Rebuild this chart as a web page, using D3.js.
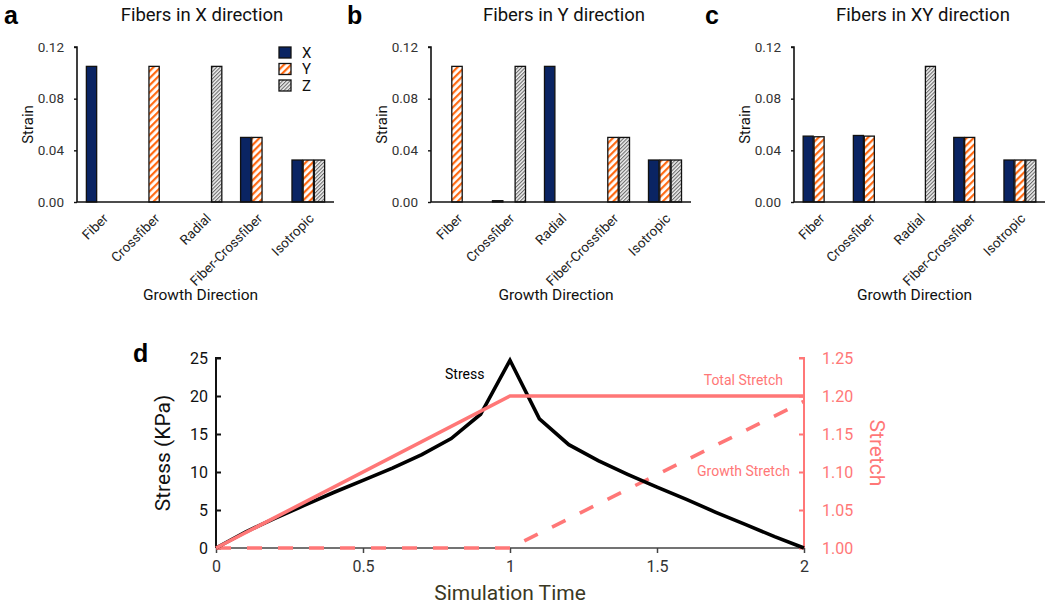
<!DOCTYPE html>
<html>
<head>
<meta charset="utf-8">
<script src="https://cdn.jsdelivr.net/npm/d3@7"></script>
<style>
  body { margin: 0; background: #fff; }
  svg { font-family: Roboto, sans-serif; }
</style>
</head>
<body>
<svg width="1050" height="605"></svg>
<script>
const categories = ['Fiber', 'Crossfiber', 'Radial', 'Fiber-Crossfiber', 'Isotropic'];
const directions = ['X', 'Y', 'Z'];
const strainTicks = [0, 0.04, 0.08, 0.12];

// panel a: fibers in X direction
const fibersX_X = [0.105, 0, 0, 0.05, 0.0325];
const fibersX_Y = [0, 0.105, 0, 0.05, 0.0325];
const fibersX_Z = [0, 0, 0.105, 0, 0.0325];
// panel b: fibers in Y direction
const fibersY_X = [0, 0.001, 0.105, 0, 0.0325];
const fibersY_Y = [0.105, 0, 0, 0.05, 0.0325];
const fibersY_Z = [0, 0.105, 0, 0.05, 0.0325];
// panel c: fibers in XY direction
const fibersXY_X = [0.051, 0.0515, 0, 0.05, 0.0325];
const fibersXY_Y = [0.0505, 0.051, 0, 0.05, 0.0325];
const fibersXY_Z = [0, 0, 0.105, 0, 0.0325];

// panel d
const simTime = [0, 0.1, 0.2, 0.3, 0.4, 0.5, 0.6, 0.7, 0.8, 0.9, 1.0, 1.1, 1.2, 1.3, 1.4, 1.5, 1.6, 1.7, 1.8, 1.9, 2.0];
const stress = [0, 2.1, 3.9, 5.6, 7.3, 8.9, 10.5, 12.3, 14.4, 17.6, 24.7, 17.0, 13.6, 11.5, 9.7, 8.0, 6.4, 4.7, 3.1, 1.5, 0];
const stretchTime = [0, 1, 2];
const totalStretch = [1.0, 1.2, 1.2];
const growthStretch = [1.0, 1.0, 1.193];
const timeTicks = [0, 0.5, 1, 1.5, 2];
const stressTicks = [0, 5, 10, 15, 20, 25];
const stretchTicks = [1.0, 1.05, 1.1, 1.15, 1.2, 1.25];

const navy = '#0a2463';
const orange = '#ff6a13';
const pink = '#ff7777';

const svg = d3.select('svg');
const defs = svg.append('defs');

const pY = defs.append('pattern').attr('id', 'hatchY').attr('patternUnits', 'userSpaceOnUse')
  .attr('width', 5).attr('height', 5).attr('patternTransform', 'rotate(45)');
pY.append('rect').attr('width', 5).attr('height', 5).attr('fill', '#fff');
pY.append('rect').attr('width', 2.2).attr('height', 5).attr('fill', orange);

const pZ = defs.append('pattern').attr('id', 'hatchZ').attr('patternUnits', 'userSpaceOnUse')
  .attr('width', 2.6).attr('height', 2.6).attr('patternTransform', 'rotate(45)');
pZ.append('rect').attr('width', 2.6).attr('height', 2.6).attr('fill', '#f2f2f2');
pZ.append('rect').attr('width', 1.1).attr('height', 2.6).attr('fill', '#6a6a6a');

const fills = {X: navy, Y: 'url(#hatchY)', Z: 'url(#hatchZ)'};

function barPanel(opts) {
  const top = 47, bottom = 202;
  const g = svg.append('g');
  const x0 = d3.scaleBand().domain(categories).range([opts.x0, opts.x1])
    .paddingInner(0.33).paddingOuter(0.165);
  const x1 = d3.scaleBand().domain(directions).range([0, x0.bandwidth()]).padding(0.08);
  const y = d3.scaleLinear().domain([0, 0.12]).range([bottom, top]);

  g.append('text').attr('x', opts.letterX).attr('y', 24)
    .attr('font-family', 'Liberation Sans, Arial, sans-serif').attr('font-weight', 'bold')
    .attr('font-size', 25).text(opts.letter);
  g.append('text').attr('x', opts.titleX).attr('y', 21).attr('text-anchor', 'middle')
    .attr('font-size', 18.5).attr('fill', '#111').text(opts.title);

  const rows = [];
  categories.forEach((c, i) => {
    directions.forEach(d => {
      rows.push({cat: c, dir: d, v: opts.series[d][i]});
    });
  });

  g.selectAll('rect.bar').data(rows.filter(r => r.v > 0)).join('rect')
    .attr('class', 'bar')
    .attr('x', r => x0(r.cat) + x1(r.dir))
    .attr('width', x1.bandwidth())
    .attr('y', r => y(r.v))
    .attr('height', r => y(0) - y(r.v))
    .attr('fill', r => fills[r.dir])
    .attr('stroke', '#111').attr('stroke-width', 1.3);

  const yAxis = g.append('g').attr('transform', 'translate(' + opts.x0 + ',0)')
    .call(d3.axisLeft(y).tickValues(strainTicks).tickFormat(d3.format('.2f')).tickSize(3).tickPadding(10));
  yAxis.select('.domain').attr('stroke', '#111').attr('stroke-width', 1.6).attr('d', 'M-3,' + top + 'H0V' + bottom);
  yAxis.selectAll('.tick line').attr('stroke', '#111').attr('stroke-width', 1.4);
  yAxis.selectAll('.tick text').attr('font-size', 13.5).attr('fill', '#333').attr('font-family', 'Roboto, sans-serif');

  const xAxis = g.append('g').attr('transform', 'translate(0,' + bottom + ')')
    .call(d3.axisBottom(x0).tickSize(0).tickPadding(0));
  xAxis.select('.domain').attr('stroke', '#111').attr('stroke-width', 1.6)
    .attr('d', 'M' + opts.x0 + ',0H' + opts.x1);
  xAxis.selectAll('.tick text')
    .attr('font-size', 13.5).attr('fill', '#222').attr('font-family', 'Roboto, sans-serif')
    .attr('text-anchor', 'end').attr('dy', '0.35em')
    .attr('transform', 'translate(3,14) rotate(-45)');

  g.append('text').attr('transform', 'translate(' + (opts.x0 - 44) + ',' + ((top + bottom) / 2) + ') rotate(-90)')
    .attr('text-anchor', 'middle').attr('font-size', 15).attr('fill', '#111').text('Strain');
  g.append('text').attr('x', (opts.x0 + opts.x1) / 2 - 5).attr('y', 300).attr('text-anchor', 'middle')
    .attr('font-size', 15.5).attr('fill', '#111').text('Growth Direction');

  if (opts.legend) {
    const lg = g.append('g').attr('transform', 'translate(279,47)');
    directions.forEach((d, i) => {
      lg.append('rect').attr('x', 0).attr('y', i * 16.5).attr('width', 12).attr('height', 11)
        .attr('fill', fills[d]).attr('stroke', '#111').attr('stroke-width', 1.3);
      lg.append('text').attr('x', 23).attr('y', i * 16.5 + 5.5).attr('dy', '0.36em')
        .attr('font-size', 15).attr('fill', '#111').text(d);
    });
  }
}

barPanel({letter: 'a', letterX: 4, title: 'Fibers in X direction', titleX: 202, x0: 77, x1: 334,
  series: {X: fibersX_X, Y: fibersX_Y, Z: fibersX_Z}, legend: true});
barPanel({letter: 'b', letterX: 347, title: 'Fibers in Y direction', titleX: 564, x0: 431, x1: 691,
  series: {X: fibersY_X, Y: fibersY_Y, Z: fibersY_Z}});
barPanel({letter: 'c', letterX: 705, title: 'Fibers in XY direction', titleX: 923, x0: 794, x1: 1045,
  series: {X: fibersXY_X, Y: fibersXY_Y, Z: fibersXY_Z}});

// panel d
const left = 216, right = 804, dTop = 358, dBottom = 548;
const gd = svg.append('g');
const xT = d3.scaleLinear().domain([0, 2]).range([left, right]);
const yS = d3.scaleLinear().domain([0, 25]).range([dBottom, dTop]);
const yR = d3.scaleLinear().domain([1, 1.25]).range([dBottom, dTop]);

gd.append('text').attr('x', 133).attr('y', 362)
  .attr('font-family', 'Liberation Sans, Arial, sans-serif').attr('font-weight', 'bold')
  .attr('font-size', 25).text('d');

const xAx = gd.append('g').attr('transform', 'translate(0,' + dBottom + ')')
  .call(d3.axisBottom(xT).tickValues(timeTicks).tickFormat(d3.format('')).tickSize(5).tickPadding(8));
xAx.select('.domain').attr('stroke', '#444').attr('stroke-width', 1.5).attr('d', 'M' + left + ',0H' + right);
xAx.selectAll('.tick line').attr('stroke', '#444').attr('stroke-width', 1.5);
xAx.selectAll('.tick text').attr('font-size', 16).attr('fill', '#333').attr('font-family', 'Roboto, sans-serif');

const yAxL = gd.append('g').attr('transform', 'translate(' + left + ',0)')
  .call(d3.axisRight(yS).tickValues(stressTicks).tickSize(5).tickPadding(-20));
yAxL.select('.domain').attr('stroke', '#111').attr('stroke-width', 2).attr('d', 'M5,' + dTop + 'H0V' + dBottom);
yAxL.selectAll('.tick line').attr('stroke', '#111').attr('stroke-width', 2);
yAxL.selectAll('.tick text').attr('x', -8).attr('text-anchor', 'end')
  .attr('font-size', 16).attr('fill', '#111').attr('font-family', 'Roboto, sans-serif');

const yAxR = gd.append('g').attr('transform', 'translate(' + right + ',0)')
  .call(d3.axisLeft(yR).tickValues(stretchTicks).tickFormat(d3.format('.2f')).tickSize(5));
yAxR.select('.domain').attr('stroke', pink).attr('stroke-width', 2).attr('d', 'M-5,' + dTop + 'H0V' + dBottom);
yAxR.selectAll('.tick line').attr('stroke', pink).attr('stroke-width', 2);
yAxR.selectAll('.tick text').attr('x', 18).attr('text-anchor', 'start')
  .attr('font-size', 16).attr('fill', pink).attr('font-family', 'Roboto, sans-serif');

const stretchLine = d3.line().x((d, i) => xT(stretchTime[i])).y(d => yR(d));
gd.append('path').datum(growthStretch).attr('d', stretchLine)
  .attr('fill', 'none').attr('stroke', pink).attr('stroke-width', 3.6)
  .attr('stroke-dasharray', '15,16');
gd.append('path').datum(stress)
  .attr('d', d3.line().x((d, i) => xT(simTime[i])).y(d => yS(d)))
  .attr('fill', 'none').attr('stroke', '#000').attr('stroke-width', 3.6).attr('stroke-linejoin', 'miter');
gd.append('path').datum(totalStretch).attr('d', stretchLine)
  .attr('fill', 'none').attr('stroke', pink).attr('stroke-width', 3.6);

gd.append('text').attr('x', 445).attr('y', 379).attr('font-size', 14).attr('fill', '#000').text('Stress');
gd.append('text').attr('x', 783).attr('y', 385).attr('text-anchor', 'end').attr('font-size', 14)
  .attr('fill', pink).text('Total Stretch');
gd.append('text').attr('x', 790).attr('y', 476).attr('text-anchor', 'end').attr('font-size', 14)
  .attr('fill', pink).text('Growth Stretch');

gd.append('text').attr('transform', 'translate(170,' + ((dTop + dBottom) / 2) + ') rotate(-90)')
  .attr('text-anchor', 'middle').attr('font-size', 21).attr('fill', '#111').text('Stress (KPa)');
gd.append('text').attr('transform', 'translate(870,' + ((dTop + dBottom) / 2) + ') rotate(90)')
  .attr('text-anchor', 'middle').attr('font-size', 21).attr('fill', pink).text('Stretch');
gd.append('text').attr('x', (left + right) / 2).attr('y', 600).attr('text-anchor', 'middle')
  .attr('font-size', 21).attr('fill', '#3b3823').text('Simulation Time');
</script>
</body>
</html>
